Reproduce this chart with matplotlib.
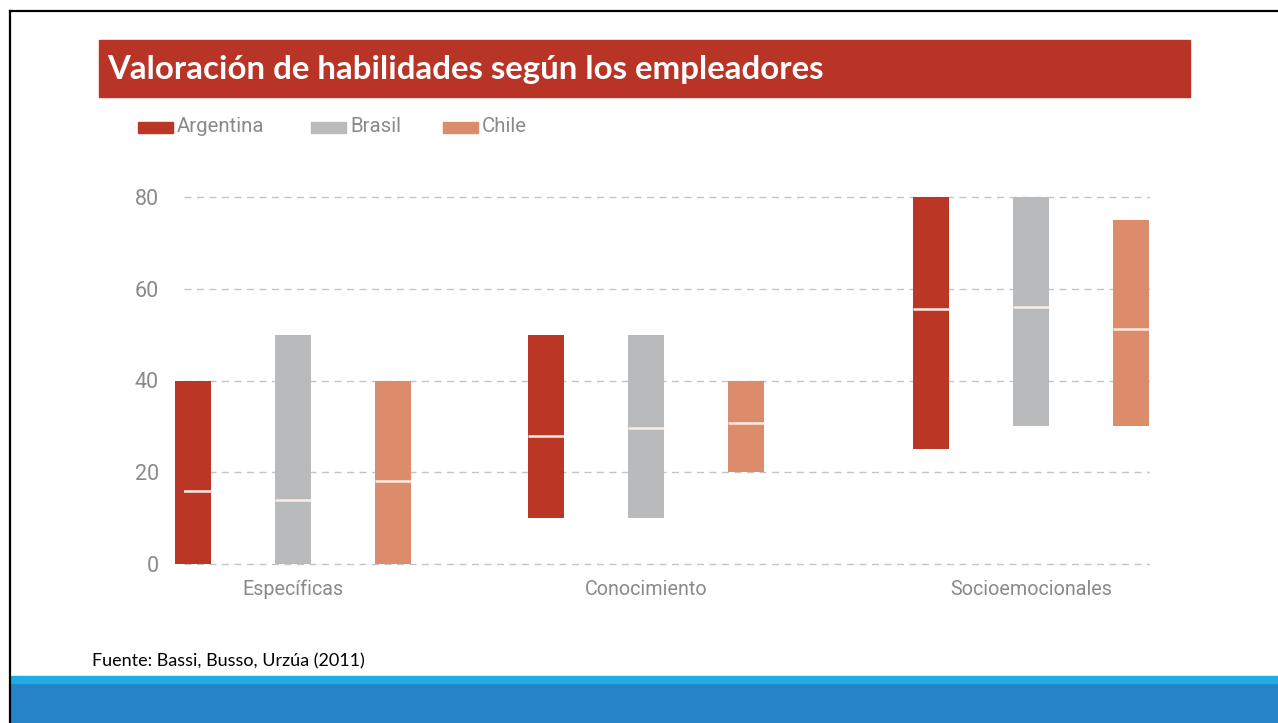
import matplotlib
matplotlib.use("Agg")
import matplotlib.pyplot as plt
from matplotlib.patches import Rectangle
from matplotlib.lines import Line2D

# ---------------- data ----------------
categories = ["Específicas", "Conocimiento", "Socioemocionales"]
series = ["Argentina", "Brasil", "Chile"]
low_arg = [0, 10, 25]
high_arg = [40, 50, 80]
mid_arg = [16, 28, 55.5]
low_bra = [0, 10, 30]
high_bra = [50, 50, 80]
mid_bra = [14, 29.6, 56]
low_chi = [0, 20, 30]
high_chi = [40, 40, 75]
mid_chi = [18, 30.7, 51.2]
yticks = [0, 20, 40, 60, 80]
title = "Valoración de habilidades según los empleadores"
source = "Fuente: Bassi, Busso, Urzúa (2011)"

# ---------------- style / layout ----------------
colors = ["#BC3626", "#B9BABC", "#DC8B6B"]
W, H = 1278, 723
group_x = [0.0, 3.53, 7.38]
offset = 1.0
bar_w = 0.36
narrow = ["Roboto", "DejaVu Sans"]
grey_txt = "#8A8A8A"

fig = plt.figure(figsize=(W / 100, H / 100), dpi=100)
fig.patch.set_facecolor("white")


def fx(x):
    return x / W


def fy(y):
    return 1 - y / H


# axes placement in pixels
ax_l, ax_r = 184, 1150
ymin, ymax = -1, 82
y0_px, y80_px = 564, 197
ppu = (y0_px - y80_px) / 80.0
ax_b = y0_px + (0 - ymin) * ppu
ax_t = y80_px - (ymax - 80) * ppu
ax = fig.add_axes([fx(ax_l), fy(ax_b), (ax_r - ax_l) / W, (ax_b - ax_t) / H])
ax.set_xlim((ax_l - 293) / 100.0, (ax_r - 293) / 100.0)
ax.set_ylim(ymin, ymax)

lows = [low_arg, low_bra, low_chi]
highs = [high_arg, high_bra, high_chi]
mids = [mid_arg, mid_bra, mid_chi]
for s, name in enumerate(series):
    xs = [g + (s - 1) * offset for g in group_x]
    heights = [h - l for h, l in zip(highs[s], lows[s])]
    ax.bar(xs, heights, bottom=lows[s], width=bar_w, color=colors[s],
           label=name, zorder=3, clip_on=False)
    ax.hlines(mids[s], [x - bar_w / 2 for x in xs], [x + bar_w / 2 for x in xs],
              colors="#FBEDE6", linewidth=1.8, zorder=4)

ax.set_yticks(yticks)
ax.set_yticklabels([str(v) for v in yticks], family=narrow, fontsize=15.5,
                   color=grey_txt)
ax.set_xticks(group_x)
ax.set_xticklabels(categories, family=narrow, fontsize=14.2, color=grey_txt)
ax.tick_params(axis="both", length=0)
ax.tick_params(axis="y", pad=18)
ax.tick_params(axis="x", pad=8)
ax.yaxis.grid(True, linestyle=(0, (5, 4)), color="#C4C4C4", linewidth=1.0, zorder=0)
ax.set_axisbelow(True)
for sp in ax.spines.values():
    sp.set_visible(False)
ax.set_facecolor("none")

# title bar
fig.patches.append(Rectangle((fx(99), fy(97)), (1190 - 99) / W, (97 - 40) / H,
                             transform=fig.transFigure, color="#B83426", zorder=1))
fig.text(fx(107), fy(70), title, color="white", fontsize=23.8, fontweight="bold",
         family=["Lato", "DejaVu Sans"], va="center", ha="left", zorder=2)

# legend (manual)
leg_patch_x = [138, 311, 443]
for s, name in enumerate(series):
    px = leg_patch_x[s]
    fig.patches.append(Rectangle((fx(px), fy(133)), 35 / W, 11 / H,
                                 transform=fig.transFigure, color=colors[s]))
    fig.text(fx(px + 39), fy(127), name, family=narrow, fontsize=14.7,
             color=grey_txt, va="center", ha="left")

# source
fig.text(fx(92), fy(661), source, family=["Lato", "DejaVu Sans"], fontsize=13,
         color="black", va="center", ha="left")

# slide frame
fig.add_artist(Line2D([fx(10), 1], [fy(11), fy(11)], color="black", linewidth=1.6,
                      transform=fig.transFigure))
fig.add_artist(Line2D([fx(10), fx(10)], [fy(11), 0], color="black", linewidth=1.6,
                      transform=fig.transFigure))

# bottom blue band
fig.patches.append(Rectangle((fx(11), 0), 1, (723 - 683) / H,
                             transform=fig.transFigure, color="#2683C6"))
fig.patches.append(Rectangle((fx(11), fy(683)), 1, 7 / H,
                             transform=fig.transFigure, color="#1CADE4"))

fig.savefig("out.png", dpi=100)
